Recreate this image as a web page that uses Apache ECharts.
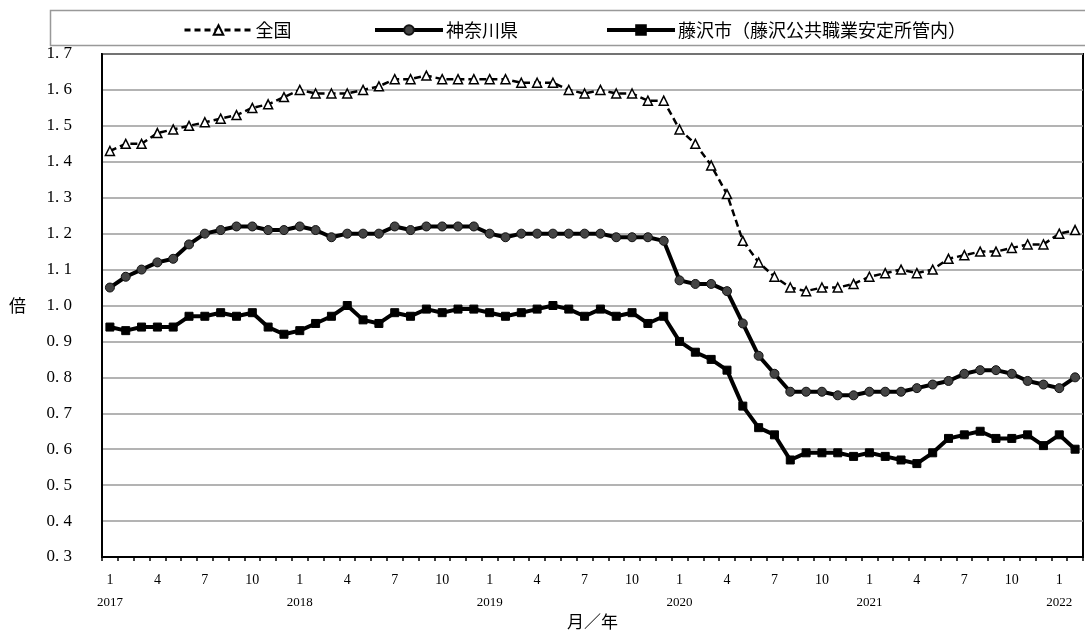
<!DOCTYPE html>
<html><head><meta charset="utf-8">
<script src="https://cdn.jsdelivr.net/npm/echarts@6/dist/echarts.min.js"></script>
<style>html,body{margin:0;padding:0;background:#fff}#c{width:1085px;height:635px}</style>
</head><body><div id="c"></div>
<script>
const years = [2017,2018,2019,2020,2021,2022];
const seriesNames = ['全国','神奈川県','藤沢市（藤沢公共職業安定所管内）'];
const national = [1.43,1.45,1.45,1.48,1.49,1.50,1.51,1.52,1.53,1.55,1.56,1.58,
1.60,1.59,1.59,1.59,1.60,1.61,1.63,1.63,1.64,1.63,1.63,1.63,
1.63,1.63,1.62,1.62,1.62,1.60,1.59,1.60,1.59,1.59,1.57,1.57,
1.49,1.45,1.39,1.31,1.18,1.12,1.08,1.05,1.04,1.05,1.05,1.06,
1.08,1.09,1.10,1.09,1.10,1.13,1.14,1.15,1.15,1.16,1.17,1.17,
1.20,1.21];
const kanagawa = [1.05,1.08,1.10,1.12,1.13,1.17,1.20,1.21,1.22,1.22,1.21,1.21,
1.22,1.21,1.19,1.20,1.20,1.20,1.22,1.21,1.22,1.22,1.22,1.22,
1.20,1.19,1.20,1.20,1.20,1.20,1.20,1.20,1.19,1.19,1.19,1.18,
1.07,1.06,1.06,1.04,0.95,0.86,0.81,0.76,0.76,0.76,0.75,0.75,
0.76,0.76,0.76,0.77,0.78,0.79,0.81,0.82,0.82,0.81,0.79,0.78,
0.77,0.80];
const fujisawa = [0.94,0.93,0.94,0.94,0.94,0.97,0.97,0.98,0.97,0.98,0.94,0.92,
0.93,0.95,0.97,1.00,0.96,0.95,0.98,0.97,0.99,0.98,0.99,0.99,
0.98,0.97,0.98,0.99,1.00,0.99,0.97,0.99,0.97,0.98,0.95,0.97,
0.90,0.87,0.85,0.82,0.72,0.66,0.64,0.57,0.59,0.59,0.59,0.58,
0.59,0.58,0.57,0.56,0.59,0.63,0.64,0.65,0.63,0.63,0.64,0.61,
0.64,0.60];

const categories = [];
for (let i = 0; i < national.length; i++) {
  const y = years[0] + Math.floor(i / 12);
  const m = (i % 12) + 1;
  categories.push(y + '/' + m);
}

const serif = '"Liberation Serif", "DejaVu Serif", serif';
const jp = '"Noto Sans CJK JP", sans-serif';

const chart = echarts.init(document.getElementById('c'));
const legendBase = {
  top: 16, itemWidth: 68, itemHeight: 12, itemGap: 4,
  textStyle: {fontFamily: jp, fontSize: 18, color: '#000', padding: [0,0,0,-2]},
  selectedMode: false
};
chart.setOption({
  animation: false,
  backgroundColor: '#fff',
  graphic: [{type: 'rect', shape: {x: 50.5, y: 10.5, width: 1040, height: 35}, style: {fill: 'none', stroke: '#999', lineWidth: 1.5}, silent: true, z: -1}],
  legend: [
    Object.assign({}, legendBase, {left: 178, data: [{name: seriesNames[0], lineStyle: {width: 3, type: [6, 4], color: '#000'}}]}),
    Object.assign({}, legendBase, {left: 368, data: [{name: seriesNames[1], lineStyle: {width: 4, color: '#000'}}]}),
    Object.assign({}, legendBase, {left: 600, data: [{name: seriesNames[2], lineStyle: {width: 4, color: '#000'}}]})
  ],
  grid: {left: 102, right: 2, top: 54, bottom: 78, show: true, borderColor: '#000', borderWidth: 2,
    containLabel: false, outerBoundsMode: 'none'},
  xAxis: {
    type: 'category', data: categories, boundaryGap: true,
    name: '月／年', nameLocation: 'middle', nameGap: 56, nameMoveOverlap: false,
    nameTextStyle: {fontFamily: jp, fontSize: 17, color: '#000'},
    axisLine: {lineStyle: {color: '#000', width: 2}},
    axisTick: {show: true, interval: 0, length: 4, lineStyle: {color: '#000', width: 1.5}},
    axisLabel: {
      interval: function (i) { return i % 3 === 0; },
      margin: 12, color: '#000', fontFamily: serif, fontSize: 14, lineHeight: 22,
      formatter: function (v) {
        const p = v.split('/');
        const m = p[1];
        return m === '1' ? m + '\n{y|' + p[0] + '}' : m;
      },
      rich: {y: {fontFamily: serif, fontSize: 13, color: '#000', lineHeight: 24}}
    },
    splitLine: {show: false}
  },
  yAxis: {
    type: 'value', min: 0.3, max: 1.7, interval: 0.1,
    name: '倍', nameLocation: 'middle', nameGap: 76, nameRotate: 0,
    nameTextStyle: {fontFamily: jp, fontSize: 17, color: '#000'},
    axisLine: {show: true, lineStyle: {color: '#000', width: 2}},
    axisTick: {show: false},
    axisLabel: {margin: 30, color: '#000', fontFamily: serif, fontSize: 17,
      formatter: function (v) { return v.toFixed(1).replace('.', '. '); }},
    splitLine: {show: true, lineStyle: {color: '#9a9a9a', width: 1.5}}
  },
  series: [
    {name: seriesNames[0], type: 'line', data: national, z: 3,
      symbol: 'triangle', symbolSize: 9,
      lineStyle: {color: '#000', width: 2.5, type: [7, 4]},
      itemStyle: {color: '#fff', borderColor: '#000', borderWidth: 1.5}},
    {name: seriesNames[1], type: 'line', data: kanagawa, z: 2,
      symbol: 'circle', symbolSize: 9,
      lineStyle: {color: '#000', width: 4},
      itemStyle: {color: '#444', borderColor: '#111', borderWidth: 1}},
    {name: seriesNames[2], type: 'line', data: fujisawa, z: 2,
      symbol: 'rect', symbolSize: 8,
      lineStyle: {color: '#000', width: 4},
      itemStyle: {color: '#000', borderColor: '#000', borderWidth: 1}}
  ]
});
</script></body></html>
